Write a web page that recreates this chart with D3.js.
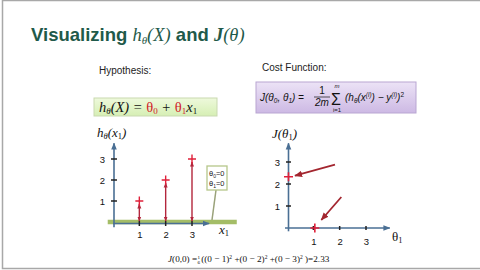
<!DOCTYPE html>
<html>
<head>
<meta charset="utf-8">
<script src="https://cdn.jsdelivr.net/npm/d3@7"></script>
<style>
  body { margin: 0; background: #fff; }
  svg { display: block; }
  text { font-family: Arial, "Liberation Sans", sans-serif; }
  .serif { font-family: "Liberation Serif", "DejaVu Serif", serif; font-style: italic; }
</style>
</head>
<body>
<div id="chart"></div>
<script>
// data
const xTicks = [1, 2, 3];
const yTicks = [1, 2, 3];
const trainX = [1, 2, 3];
const trainY = [1, 2, 3];
const theta0 = 0;
const theta1 = 0;
const costTheta = [0, 1];
const costJ = [2.33, 0];

const width = 480;
const height = 270;

const svg = d3.select("#chart")
    .append("svg")
    .attr("width", width)
    .attr("height", height);

// slide frame
svg.append("rect")
    .attr("x", 2.5).attr("y", 0.5)
    .attr("width", 480).attr("height", 268)
    .attr("fill", "#fff")
    .attr("stroke", "#a8a8a8")
    .attr("stroke-width", 1.5);

const defs = svg.append("defs");
function marker(id, color, size) {
    defs.append("marker")
        .attr("id", id)
        .attr("viewBox", "0 0 10 10")
        .attr("refX", 9).attr("refY", 5)
        .attr("markerWidth", size).attr("markerHeight", size)
        .attr("markerUnits", "userSpaceOnUse")
        .attr("orient", "auto-start-reverse")
        .append("path")
        .attr("d", "M0,1 L10,5 L0,9 Z")
        .attr("fill", color);
}
marker("axisArrow", "#4a6f94", 7);
marker("redArrow", "#b3263c", 5);
marker("darkArrow", "#a3262f", 8);

// title
const title = svg.append("text")
    .attr("x", 31).attr("y", 41)
    .attr("fill", "#1f5a4a")
    .style("font-size", "18.5px")
    .style("font-weight", "bold");
title.append("tspan").text("Visualizing ");
title.append("tspan").attr("class", "serif").style("font-weight", "normal").text("h");
title.append("tspan").attr("class", "serif").style("font-weight", "normal").style("font-size", "11px").attr("dy", 3).text("θ");
title.append("tspan").attr("class", "serif").style("font-weight", "normal").attr("dy", -3).text("(X)");
title.append("tspan").text(" and ");
title.append("tspan").attr("class", "serif").text("J");
title.append("tspan").attr("class", "serif").style("font-weight", "normal").text("(θ)");

// hypothesis box
svg.append("text").attr("x", 99).attr("y", 74)
    .style("font-size", "10px").attr("fill", "#222").text("Hypothesis:");

const hg = defs.append("linearGradient").attr("id", "greenGrad")
    .attr("x1", 0).attr("y1", 0).attr("x2", 0).attr("y2", 1);
hg.append("stop").attr("offset", "0%").attr("stop-color", "#eef9dc");
hg.append("stop").attr("offset", "100%").attr("stop-color", "#d6efb4");
svg.append("rect").attr("x", 94).attr("y", 98).attr("width", 123).attr("height", 18)
    .attr("fill", "url(#greenGrad)").attr("stroke", "#c9d9b0").attr("stroke-width", 1);

const hyp = svg.append("text").attr("x", 99).attr("y", 111.5)
    .attr("class", "serif").style("font-size", "14.5px").attr("fill", "#111");
hyp.append("tspan").text("h");
hyp.append("tspan").style("font-size", "9px").attr("dy", 2).text("θ");
hyp.append("tspan").attr("dy", -2).text("(X) = ");
hyp.append("tspan").attr("fill", "#d0202a").style("font-style", "normal").text("θ");
hyp.append("tspan").attr("fill", "#d0202a").style("font-style", "normal").style("font-size", "9px").attr("dy", 2).text("0");
hyp.append("tspan").attr("dy", -2).text(" + ");
hyp.append("tspan").attr("fill", "#d0202a").style("font-style", "normal").text("θ");
hyp.append("tspan").attr("fill", "#d0202a").style("font-style", "normal").style("font-size", "9px").attr("dy", 2).text("1");
hyp.append("tspan").attr("dy", -2).text("x");
hyp.append("tspan").style("font-size", "9px").style("font-style", "normal").attr("dy", 2).text("1");

// cost function box
svg.append("text").attr("x", 262).attr("y", 71)
    .style("font-size", "10px").attr("fill", "#222").text("Cost Function:");

const pg = defs.append("linearGradient").attr("id", "purpleGrad")
    .attr("x1", 0).attr("y1", 0).attr("x2", 0).attr("y2", 1);
pg.append("stop").attr("offset", "0%").attr("stop-color", "#ece3f6");
pg.append("stop").attr("offset", "100%").attr("stop-color", "#cdb9e4");
svg.append("rect").attr("x", 256).attr("y", 82).attr("width", 160).attr("height", 31)
    .attr("fill", "url(#purpleGrad)").attr("stroke", "#b9a6d2").attr("stroke-width", 1);

const cf = svg.append("g").attr("class", "serif").style("font-size", "10px").attr("fill", "#111");
const c1 = cf.append("text").attr("x", 260).attr("y", 101);
c1.append("tspan").text("J(θ");
c1.append("tspan").style("font-size", "6.5px").attr("dy", 2).text("0");
c1.append("tspan").attr("dy", -2).text(", θ");
c1.append("tspan").style("font-size", "6.5px").attr("dy", 2).text("1");
c1.append("tspan").attr("dy", -2).text(") =");
cf.append("text").attr("x", 322).attr("y", 94).attr("text-anchor", "middle").style("font-style", "normal").text("1");
svg.append("line").attr("x1", 314).attr("x2", 330).attr("y1", 97).attr("y2", 97).attr("stroke", "#111").attr("stroke-width", 0.7);
cf.append("text").attr("x", 322).attr("y", 106).attr("text-anchor", "middle").text("2m");
cf.append("text").attr("x", 331).attr("y", 104.5).style("font-size", "16px").style("font-style", "normal").text("Σ");
cf.append("text").attr("x", 337).attr("y", 88).attr("text-anchor", "middle").style("font-size", "6px").text("m");
cf.append("text").attr("x", 337).attr("y", 112).attr("text-anchor", "middle").style("font-size", "6px").style("font-style", "normal").text("i=1");
const c2 = cf.append("text").attr("x", 345).attr("y", 101);
c2.append("tspan").text("(h");
c2.append("tspan").style("font-size", "6.5px").attr("dy", 2).text("θ");
c2.append("tspan").attr("dy", -2).text("(x");
c2.append("tspan").style("font-size", "6.5px").attr("dy", -4).text("(i)");
c2.append("tspan").attr("dy", 4).text(") − y");
c2.append("tspan").style("font-size", "6.5px").attr("dy", -4).text("(i)");
c2.append("tspan").attr("dy", 4).text(")");
c2.append("tspan").style("font-size", "6.5px").style("font-style", "normal").attr("dy", -4).text("2");

// ---------- left chart: hypothesis ----------
const x = d3.scaleLinear().domain([0, 3]).range([113, 192]);
const y = d3.scaleLinear().domain([0, 3]).range([222, 159]);
const axisColor = "#4a6f94";
const fmt = d3.format("d");

// hypothesis line h = theta0 + theta1 * x
svg.append("line")
    .attr("x1", x(-0.2)).attr("x2", x(4.7))
    .attr("y1", y(theta0 + theta1 * -0.2)).attr("y2", y(theta0 + theta1 * 4.7))
    .attr("stroke", "#9bb657").attr("stroke-width", 4.5).attr("opacity", 0.9);

svg.append("line")
    .attr("x1", x(0)).attr("x2", x(3.65))
    .attr("y1", y(0) + 1.5).attr("y2", y(0) + 1.5)
    .attr("stroke", axisColor).attr("stroke-width", 1.6)
    .attr("marker-end", "url(#axisArrow)");
svg.append("line")
    .attr("x1", x(0) + 1).attr("x2", x(0) + 1)
    .attr("y1", y(-0.25)).attr("y2", y(3.75))
    .attr("stroke", axisColor).attr("stroke-width", 1.6)
    .attr("marker-end", "url(#axisArrow)");

const xAxisL = d3.axisBottom(x).tickValues(xTicks).tickFormat(fmt).tickSize(0).tickPadding(9);
svg.append("g").attr("transform", `translate(0,${y(0)})`).call(xAxisL)
    .call(g => g.select(".domain").remove())
    .call(g => g.selectAll("text").style("font-size", "9.5px").style("font-family", "Arial").attr("fill", "#111"));
svg.append("g").selectAll("line").data(xTicks).join("line")
    .attr("x1", d => x(d)).attr("x2", d => x(d))
    .attr("y1", y(0) - 1).attr("y2", y(0) + 4)
    .attr("stroke", "#222").attr("stroke-width", 1.5);

const yAxisL = d3.axisLeft(y).tickValues(yTicks).tickFormat(fmt).tickSize(0).tickPadding(8);
svg.append("g").attr("transform", `translate(${x(0)},0)`).call(yAxisL)
    .call(g => g.select(".domain").remove())
    .call(g => g.selectAll("text").style("font-size", "9.5px").style("font-family", "Arial").attr("fill", "#111"));
svg.append("g").selectAll("line").data(yTicks).join("line")
    .attr("x1", x(0) - 2).attr("x2", x(0) + 4)
    .attr("y1", d => y(d)).attr("y2", d => y(d))
    .attr("stroke", "#222").attr("stroke-width", 1.5);

// residuals
svg.append("g").selectAll("line").data(trainX).join("line")
    .attr("x1", d => x(d)).attr("x2", d => x(d))
    .attr("y1", (d, i) => y(trainY[i]) + 3)
    .attr("y2", d => y(theta0 + theta1 * d) - 1)
    .attr("stroke", "#b3263c").attr("stroke-width", 1.4)
    .attr("marker-start", "url(#redArrow)")
    .attr("marker-end", "url(#redArrow)");

// training points
svg.append("g").selectAll("path").data(trainX).join("path")
    .attr("transform", (d, i) => `translate(${x(d)},${y(trainY[i])})`)
    .attr("d", "M-4,0H4M0,-4.5V4.5")
    .attr("stroke", "#e0203a").attr("stroke-width", 1.4).attr("fill", "none");

// axis labels
const hl = svg.append("text").attr("class", "serif").attr("x", 97).attr("y", 137)
    .style("font-size", "13px").attr("fill", "#111");
hl.append("tspan").text("h");
hl.append("tspan").style("font-size", "8.5px").attr("dy", 2).text("θ");
hl.append("tspan").attr("dy", -2).text("(x");
hl.append("tspan").style("font-size", "8.5px").style("font-style", "normal").attr("dy", 2).text("1");
hl.append("tspan").attr("dy", -2).text(")");

const xl = svg.append("text").attr("class", "serif").attr("x", 219).attr("y", 234)
    .style("font-size", "13px").attr("fill", "#111");
xl.append("tspan").text("x");
xl.append("tspan").style("font-size", "8.5px").style("font-style", "normal").attr("dy", 2).text("1");

// parameter callout
svg.append("line").attr("x1", 216).attr("y1", 190).attr("x2", 212).attr("y2", 220)
    .attr("stroke", "#9aa27a").attr("stroke-width", 1.5);
svg.append("rect").attr("x", 207).attr("y", 166).attr("width", 20).attr("height", 24)
    .attr("fill", "#fff").attr("stroke", "#b6c78a").attr("stroke-width", 1.3);
const callout = svg.append("g").style("font-size", "7.5px").attr("fill", "#222");
[[theta0, 176], [theta1, 186]].forEach((v, i) => {
    const t = callout.append("text").attr("x", 209).attr("y", v[1]);
    t.append("tspan").text("θ");
    t.append("tspan").style("font-size", "5px").attr("dy", 1.5).text(i);
    t.append("tspan").attr("dy", -1.5).text("=" + v[0]);
});

// ---------- right chart: cost ----------
const tx = d3.scaleLinear().domain([0, 3]).range([287, 366]);
const ty = d3.scaleLinear().domain([0, 3]).range([228, 162]);

svg.append("line")
    .attr("x1", tx(0) - 2).attr("x2", tx(3.9))
    .attr("y1", ty(0)).attr("y2", ty(0))
    .attr("stroke", axisColor).attr("stroke-width", 1.6)
    .attr("marker-end", "url(#axisArrow)");
svg.append("line")
    .attr("x1", tx(0) + 1.5).attr("x2", tx(0) + 1.5)
    .attr("y1", ty(-0.15)).attr("y2", ty(3.85))
    .attr("stroke", axisColor).attr("stroke-width", 1.6)
    .attr("marker-end", "url(#axisArrow)");

const xAxisR = d3.axisBottom(tx).tickValues(xTicks).tickFormat(fmt).tickSize(0).tickPadding(10);
svg.append("g").attr("transform", `translate(0,${ty(0)})`).call(xAxisR)
    .call(g => g.select(".domain").remove())
    .call(g => g.selectAll("text").style("font-size", "9.5px").style("font-family", "Arial").attr("fill", "#111"));
svg.append("g").selectAll("line").data(xTicks).join("line")
    .attr("x1", d => tx(d)).attr("x2", d => tx(d))
    .attr("y1", ty(0) - 2).attr("y2", ty(0) + 2)
    .attr("stroke", "#222").attr("stroke-width", 1.5);

const yAxisR = d3.axisLeft(ty).tickValues(yTicks).tickFormat(fmt).tickSize(0).tickPadding(7);
svg.append("g").attr("transform", `translate(${tx(0)},0)`).call(yAxisR)
    .call(g => g.select(".domain").remove())
    .call(g => g.selectAll("text").style("font-size", "9.5px").style("font-family", "Arial").attr("fill", "#111"));
svg.append("g").selectAll("line").data(yTicks).join("line")
    .attr("x1", tx(0) - 1).attr("x2", tx(0) + 4)
    .attr("y1", d => ty(d)).attr("y2", d => ty(d))
    .attr("stroke", "#222").attr("stroke-width", 1.5);

svg.append("g").selectAll("path").data(costTheta).join("path")
    .attr("transform", (d, i) => `translate(${tx(d) + 1.5},${ty(costJ[i])})`)
    .attr("d", "M-4.5,0H4.5M0,-4.5V4.5")
    .attr("stroke", "#e0203a").attr("stroke-width", 1.6).attr("fill", "none");

// pointer arrows onto the cost points
const pointerOffsets = [[48, -12], [28, -31]];
svg.append("g").selectAll("line").data(costTheta).join("line")
    .attr("x1", (d, i) => tx(d) + pointerOffsets[i][0])
    .attr("y1", (d, i) => ty(costJ[i]) + pointerOffsets[i][1])
    .attr("x2", (d, i) => tx(d) + 8)
    .attr("y2", (d, i) => ty(costJ[i]) - (i === 0 ? 1 : 8))
    .attr("stroke", "#a3262f").attr("stroke-width", 1.8)
    .attr("marker-end", "url(#darkArrow)");

const jl = svg.append("text").attr("class", "serif").attr("x", 272).attr("y", 138)
    .style("font-size", "13px").attr("fill", "#111");
jl.append("tspan").text("J(θ");
jl.append("tspan").style("font-size", "8.5px").style("font-style", "normal").attr("dy", 2).text("1");
jl.append("tspan").attr("dy", -2).text(")");

const tl = svg.append("text").attr("x", 392).attr("y", 241)
    .style("font-size", "13px").style("font-family", "Liberation Serif, serif").attr("fill", "#111");
tl.append("tspan").text("θ");
tl.append("tspan").style("font-size", "8.5px").attr("dy", 2).text("1");

// worked example for theta = (0,0)
const exFont = "Liberation Serif, serif";
const exA = svg.append("text").attr("x", 168).attr("y", 262)
    .style("font-size", "9.2px").style("font-family", exFont).attr("fill", "#111");
exA.append("tspan").style("font-style", "italic").text("J");
exA.append("tspan").text("(0,0) = ");
const fx = 168 + exA.node().getComputedTextLength();
svg.append("text").attr("x", fx + 1.5).attr("y", 258.5).attr("text-anchor", "middle")
    .style("font-size", "5px").style("font-family", exFont).text("1");
svg.append("text").attr("x", fx + 1.5).attr("y", 264).attr("text-anchor", "middle")
    .style("font-size", "5px").style("font-family", exFont).text("6");
const ex = svg.append("text").attr("x", fx + 4).attr("y", 262)
    .style("font-size", "9.2px").style("font-family", exFont).attr("fill", "#111");
ex.append("tspan").text("((0 − 1)");
ex.append("tspan").style("font-size", "5.5px").attr("dy", -3).text("2");
ex.append("tspan").attr("dy", 3).text(" +(0 − 2)");
ex.append("tspan").style("font-size", "5.5px").attr("dy", -3).text("2");
ex.append("tspan").attr("dy", 3).text(" +(0 − 3)");
ex.append("tspan").style("font-size", "5.5px").attr("dy", -3).text("2");
ex.append("tspan").attr("dy", 3).text(" )=2.33");
</script>
</body>
</html>
